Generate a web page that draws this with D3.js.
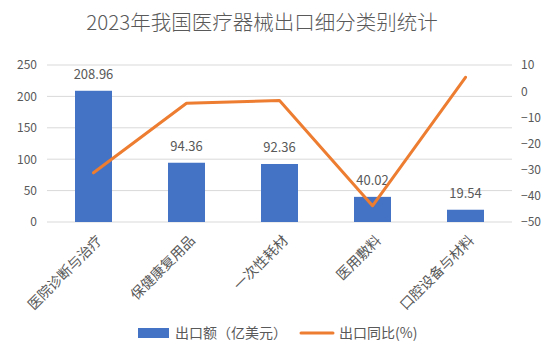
<!DOCTYPE html>
<html><head><meta charset="utf-8">
<script src="https://cdn.jsdelivr.net/npm/d3@7"></script>
<style>body{margin:0;background:#fff;} text{font-family:"Noto Sans CJK SC","DejaVu Sans",sans-serif;}</style>
</head><body><svg id="c" width="554" height="358"></svg>
<script>
const categories = ["医院诊断与治疗","保健康复用品","一次性耗材","医用敷料","口腔设备与材料"];
const exportValues = [208.96, 94.36, 92.36, 40.02, 19.54];
const yoyValues = [-31.2, -4.6, -3.6, -43.8, 5.3];
const leftTicks = [0,50,100,150,200,250];
const rightTicks = [-50,-40,-30,-20,-10,0,10];
const title = "2023年我国医疗器械出口细分类别统计";
const legendLabels = ["出口额（亿美元）","出口同比(%)"];

const svg = d3.select("#c");
const L = 47, R = 512, T = 65, B = 222;
const txt = "#595959";
const xc = d3.scaleBand().domain(categories).range([L, R]);
const yL = d3.scaleLinear().domain([0,250]).range([B, T]);
const yR = d3.scaleLinear().domain([-50,10]).range([B, T]);

svg.append("text").attr("x", 262).attr("y", 30).attr("text-anchor","middle")
  .attr("font-size", 20.5).attr("font-weight", 300).attr("fill", txt).text(title);

// gridlines
svg.append("g").selectAll("line").data(leftTicks).join("line")
  .attr("x1", L).attr("x2", R).attr("y1", d=>yL(d)).attr("y2", d=>yL(d))
  .attr("stroke", "#d9d9d9").attr("stroke-width", 1);

// left axis
const gl = svg.append("g").attr("transform", `translate(${L},0)`)
  .call(d3.axisLeft(yL).tickValues(leftTicks).tickSize(0).tickPadding(10));
gl.select(".domain").remove();
gl.selectAll("text").attr("font-size", 12).attr("fill", txt);

// right axis
const gr = svg.append("g").attr("transform", `translate(${R},0)`)
  .call(d3.axisRight(yR).tickValues(rightTicks).tickSize(0).tickPadding(9));
gr.select(".domain").remove();
gr.selectAll("text").attr("font-size", 12).attr("fill", txt);

// bars
svg.append("g").selectAll("rect").data(exportValues).join("rect")
  .attr("x", (d,i)=>xc(categories[i]) + xc.bandwidth()/2 - 18.5)
  .attr("width", 37)
  .attr("y", d=>yL(d)).attr("height", d=>B - yL(d))
  .attr("fill", "#4472C4");

// bar labels
svg.append("g").selectAll("text").data(exportValues).join("text")
  .attr("x", (d,i)=>xc(categories[i]) + xc.bandwidth()/2)
  .attr("y", d=>yL(d) - 12).attr("text-anchor","middle")
  .attr("font-size", 13).attr("fill", txt).text(d=>d.toFixed(2));

// line
const line = d3.line().x((d,i)=>xc(categories[i]) + xc.bandwidth()/2).y(d=>yR(d));
svg.append("path").datum(yoyValues).attr("d", line)
  .attr("fill","none").attr("stroke","#ED7D31").attr("stroke-width",3)
  .attr("stroke-linejoin","round").attr("stroke-linecap","round");

// category labels
svg.append("g").selectAll("text").data(categories).join("text")
  .attr("transform", d=>`translate(${xc(d)+xc.bandwidth()/2+6},${B+16}) rotate(-45)`)
  .attr("text-anchor","end").attr("dy","0.35em")
  .attr("font-size", 14).attr("fill", txt).text(d=>d);

// legend
const lg = svg.append("g");
lg.append("rect").attr("x", 138).attr("y", 328).attr("width", 31).attr("height", 10).attr("fill", "#4472C4");
lg.append("text").attr("x", 175).attr("y", 338).attr("font-size", 14).attr("fill", txt).text(legendLabels[0]);
lg.append("line").attr("x1", 301).attr("x2", 333).attr("y1", 333).attr("y2", 333)
  .attr("stroke","#ED7D31").attr("stroke-width",3).attr("stroke-linecap","round");
lg.append("text").attr("x", 339).attr("y", 338).attr("font-size", 14).attr("fill", txt).text(legendLabels[1]);
</script></body></html>
